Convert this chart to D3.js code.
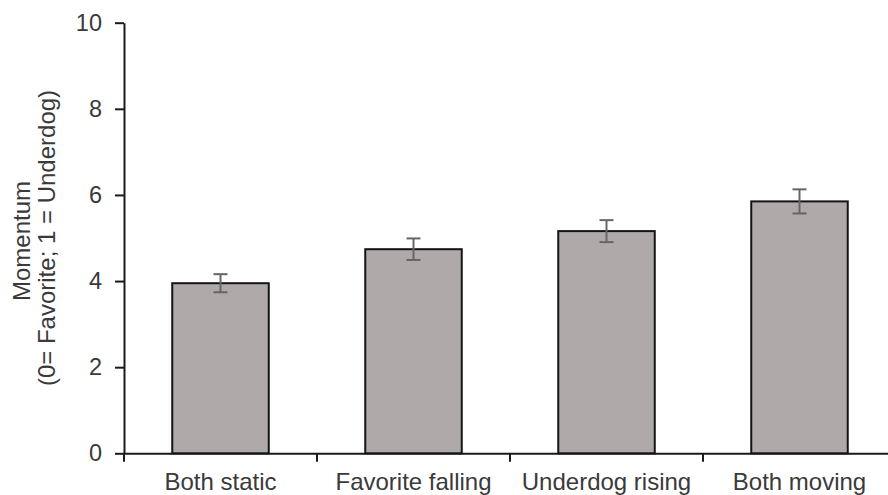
<!DOCTYPE html>
<html>
<head>
<meta charset="utf-8">
<script src="https://cdn.jsdelivr.net/npm/d3@7"></script>
<style>
  body { margin: 0; background: #fff; }
  text { font-family: "Liberation Sans", Arial, sans-serif; fill: #3a3a3a; }
</style>
</head>
<body>
<svg width="888" height="495"></svg>
<script>
const categorias = ['Both static', 'Favorite falling', 'Underdog rising', 'Both moving'];
const valores = [3.95, 4.74, 5.16, 5.85];
const erros = [0.21, 0.25, 0.255, 0.28];
const yTicks = [0, 2, 4, 6, 8, 10];

const svg = d3.select('svg');
const largura = +svg.attr('width');
const altura = +svg.attr('height');

const data = categorias.map((c, i) => ({ cat: c, valor: valores[i], erro: erros[i] }));

const marg = { cima: 22.7, esquerda: 124, baixo: 41.7 };

const xEscala = d3.scaleBand()
    .domain(categorias)
    .range([marg.esquerda, marg.esquerda + 4 * 193])
    .paddingInner(0.5)
    .paddingOuter(0.25);

const yEscala = d3.scaleLinear()
    .domain([0, 10])
    .range([altura - marg.baixo, marg.cima]);

const fonte = 24;

// eixo y
const gy = svg.append('g')
    .attr('transform', `translate(${marg.esquerda},0)`)
    .call(d3.axisLeft(yEscala).tickValues(yTicks).tickSize(9).tickSizeOuter(0).tickPadding(13));
gy.selectAll('text').style('font-size', '23.5px').attr('font-family', null);

// eixo x
const gx = svg.append('g')
    .attr('transform', `translate(0,${yEscala(0)})`)
    .call(d3.axisBottom(xEscala).tickSize(0).tickSizeOuter(0).tickPadding(20));
gx.selectAll('text').style('font-size', fonte + 'px').attr('font-family', null);

// ticks nas divisas das categorias
const divisas = categorias.map(c => xEscala(c) - xEscala.step() * 0.25);
gx.selectAll('.divisa').data(divisas)
    .enter().append('line')
    .attr('class', 'divisa')
    .attr('x1', d => d).attr('x2', d => d)
    .attr('y1', 0).attr('y2', 8.5)
    .attr('stroke', '#1a1a1a').attr('stroke-width', 2);

svg.selectAll('.domain, .tick line')
    .attr('stroke', '#1a1a1a').attr('stroke-width', 2);

// barras
svg.append('g').selectAll('rect').data(data)
    .enter().append('rect')
    .attr('x', d => xEscala(d.cat))
    .attr('y', d => yEscala(d.valor))
    .attr('width', xEscala.bandwidth())
    .attr('height', d => yEscala(0) - yEscala(d.valor))
    .attr('fill', '#afaaa9')
    .attr('stroke', '#141414')
    .attr('stroke-width', 2);

// barras de erro
const ge = svg.append('g').attr('stroke', '#666').attr('stroke-width', 2);
const cx = d => xEscala(d.cat) + xEscala.bandwidth() / 2;
ge.selectAll('.v').data(data).enter().append('line')
    .attr('x1', cx).attr('x2', cx)
    .attr('y1', d => yEscala(d.valor + d.erro))
    .attr('y2', d => yEscala(d.valor - d.erro));
ge.selectAll('.t').data(data).enter().append('line')
    .attr('x1', d => cx(d) - 7).attr('x2', d => cx(d) + 7)
    .attr('y1', d => yEscala(d.valor + d.erro))
    .attr('y2', d => yEscala(d.valor + d.erro));
ge.selectAll('.b').data(data).enter().append('line')
    .attr('x1', d => cx(d) - 7).attr('x2', d => cx(d) + 7)
    .attr('y1', d => yEscala(d.valor - d.erro))
    .attr('y2', d => yEscala(d.valor - d.erro));

// titulo do eixo y
const titulo = svg.append('text')
    .attr('transform', 'rotate(-90)')
    .attr('text-anchor', 'middle')
    .style('font-size', fonte + 'px');
titulo.append('tspan').attr('x', -241).attr('y', 30).text('Momentum');
titulo.append('tspan').attr('x', -238).attr('y', 54.5).text('(0= Favorite; 1 = Underdog)');
</script>
</body>
</html>
